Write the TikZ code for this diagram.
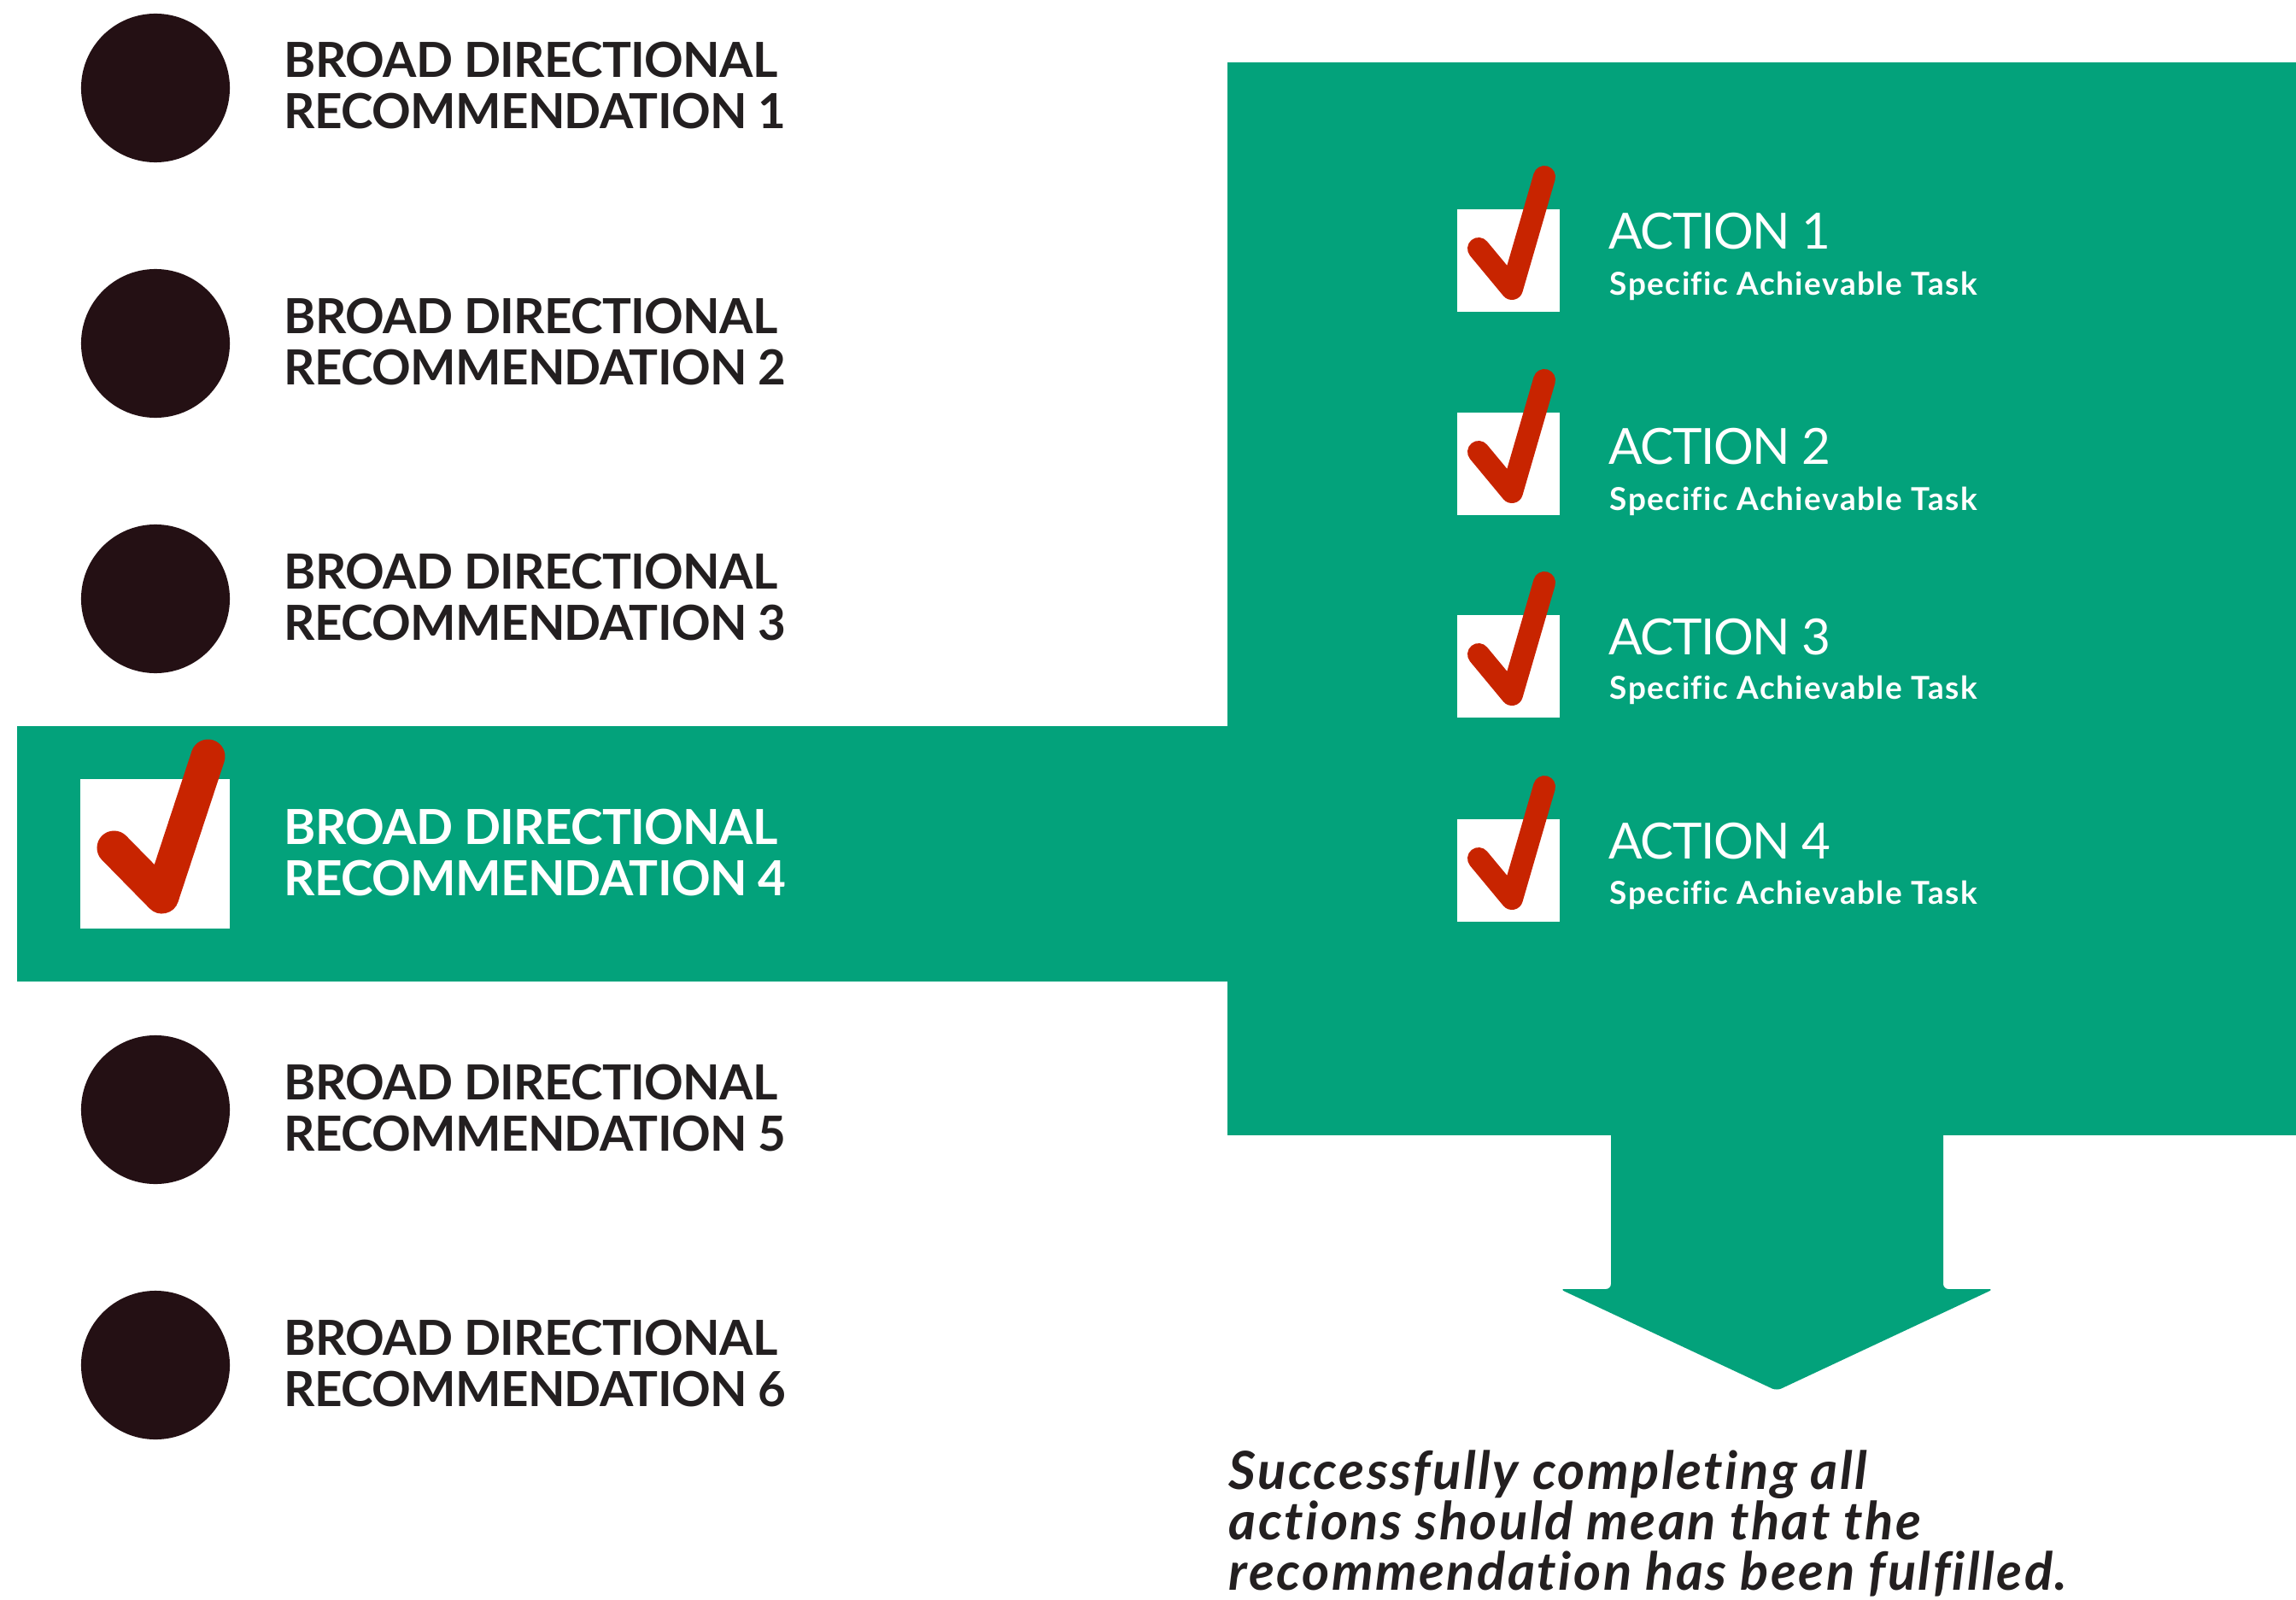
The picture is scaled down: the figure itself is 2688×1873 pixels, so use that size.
\documentclass[tikz,border=0pt]{standalone}
\usepackage{fontspec}
\setmainfont{Lato}[Ligatures=NoCommon]
\definecolor{brandgreen}{RGB}{3,162,123}
\definecolor{dotcol}{RGB}{36,16,20}
\definecolor{tickred}{RGB}{200,36,0}
\definecolor{ink}{RGB}{35,31,32}
\newcommand\myrecfont{\fontsize{16.1pt}{17pt}\selectfont\bfseries\addfontfeatures{LetterSpace=-1.2}}
\newcommand\myactfont{\fontsize{16.6pt}{17pt}\selectfont\addfontfeatures{LetterSpace=-2.5}}
\newcommand\mytaskfont{\fontsize{10.5pt}{12pt}\selectfont\bfseries\addfontfeatures{LetterSpace=4}}
\newcommand\mynotefont{\fontsize{17.5pt}{18pt}\selectfont\bfseries\itshape\addfontfeatures{LetterSpace=4}}
\begin{document}
\begin{tikzpicture}[x=0.01cm,y=-0.01cm,
  greenfill/.style={fill=brandgreen, draw=none},
  dot/.style={circle, fill=dotcol, draw=none, minimum size=1.74cm, inner sep=0pt},
  bigbox/.style={rectangle, fill=white, draw=none, minimum size=1.75cm, inner sep=0pt},
  smallbox/.style={rectangle, fill=white, draw=none, minimum size=1.2cm, inner sep=0pt},
  checkstroke/.style={draw=tickred, line cap=round, line join=round},
  rectext/.style={anchor=base west, inner sep=0pt, text=ink, font=\myrecfont},
  rectextw/.style={rectext, text=white},
  acttext/.style={anchor=base west, inner sep=0pt, text=white, font=\myactfont},
  tasktext/.style={anchor=base west, inner sep=0pt, text=white, font=\mytaskfont},
  notetext/.style={anchor=base west, inner sep=0pt, text=ink, font=\mynotefont}
]
\useasboundingbox (0,0) rectangle (2688,1873);
\fill[white] (0,0) rectangle (2688,1873);

% green panels
\fill[greenfill] (1437,73) rectangle (2688,1329);
\fill[greenfill] (20,850) rectangle (1437,1149);
\fill[greenfill, rounded corners=0.06cm] (1886,1320) -- (1886,1509) -- (1826,1509) -- (2080,1628) -- (2334,1509) -- (2275,1509) -- (2275,1320) -- cycle;

% recommendations
\foreach \i/\cy in {1/103, 2/402, 3/701, 5/1299, 6/1598} {
  \node[dot] (c\i) at (182,\cy) {};
  \node[rectext] (r\i a) at (332,\cy-12) {BROAD DIRECTIONAL};
  \node[rectext] (r\i b) at (332,\cy+48) {RECOMMENDATION \i};
}
\node[bigbox] (c4) at (181.5,999.5) {};
\draw[checkstroke, line width=0.40cm] ([shift={(-48,-7)}]c4.center) -- ([shift={(8,50)}]c4.center) -- ([shift={(62,-114)}]c4.center);
\node[rectextw] (r4a) at (332,988) {BROAD DIRECTIONAL};
\node[rectextw] (r4b) at (332,1048) {RECOMMENDATION 4};

% actions
\foreach \i/\cy/\ab/\tb in {1/305/292/346, 2/543/544/597, 3/780/766/818, 4/1019/1005/1058} {
  \node[smallbox] (a\i) at (1766,\cy) {};
  \draw[checkstroke, line width=0.26cm] ([shift={(-35,-14)}]a\i.center) -- ([shift={(4,33)}]a\i.center) -- ([shift={(42,-98)}]a\i.center);
  \node[acttext] (t\i) at (1883,\ab) {ACTION \i};
  \node[tasktext] (s\i) at (1884,\tb) {Specific Achievable Task};
}

% note
\node[notetext] (n1) at (1438,1743) {Successfully completing all};
\node[notetext] (n2) at (1438,1802) {actions should mean that the};
\node[notetext] (n3) at (1438,1861) {recommendation has been fulfilled.};
\end{tikzpicture}
\end{document}
